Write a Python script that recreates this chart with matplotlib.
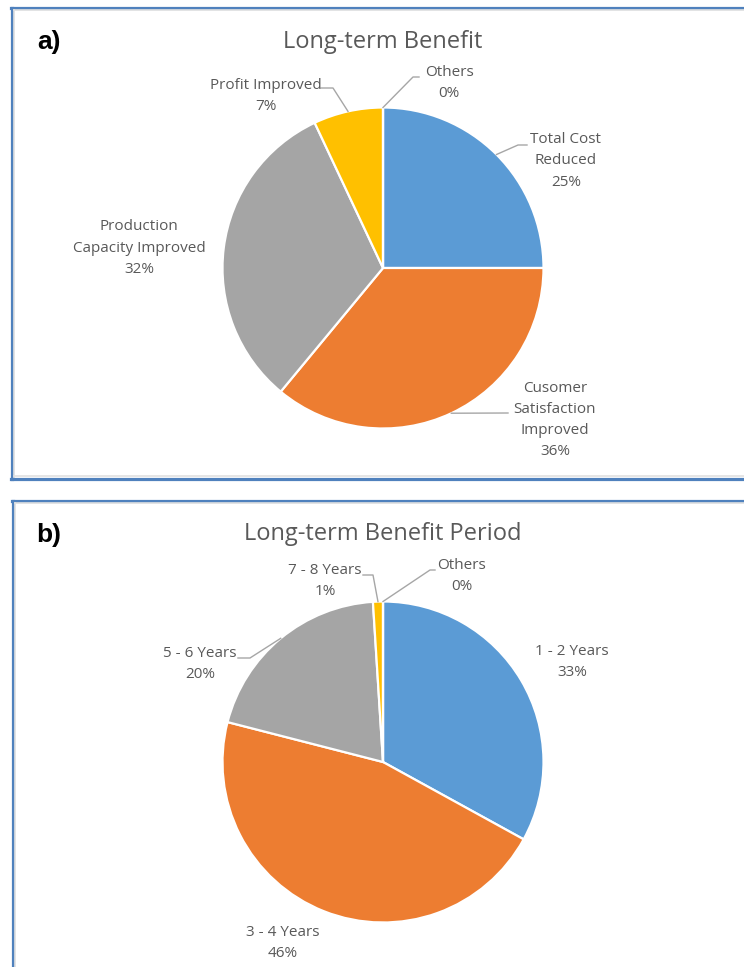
import matplotlib
matplotlib.use("Agg")
import matplotlib.pyplot as plt
from matplotlib.lines import Line2D
import numpy as np

# ---------------- data ----------------
a_title = "Long-term Benefit"
a_labels = ["Total Cost\nReduced", "Cusomer\nSatisfaction\nImproved",
            "Production\nCapacity Improved", "Profit Improved", "Others"]
a_values = [25, 36, 32, 7, 0]

b_title = "Long-term Benefit Period"
b_labels = ["1 - 2 Years", "3 - 4 Years", "5 - 6 Years", "7 - 8 Years", "Others"]
b_values = [33, 46, 20, 1, 0]

colors = ["#5B9BD5", "#ED7D31", "#A5A5A5", "#FFC000", "#4472C4"]

# ---------------- layout ----------------
W, H = 744, 967
DPI = 100
TXT = "#595959"
LEAD = "#A6A6A6"
FONT = ["Open Sans", "DejaVu Sans"]

fig = plt.figure(figsize=(W / DPI, H / DPI), dpi=DPI)


def fx(px):
    return px / W


def fy(py):
    return 1 - py / H


# panel frames
def frame(x0, y0, y1):
    fig.add_artist(Line2D([fx(x0), fx(x0)], [fy(y0), fy(y1)], color="#4F81BD", lw=2.3,
                          transform=fig.transFigure))
    fig.add_artist(Line2D([fx(x0 - 1), fx(W + 5)], [fy(y0), fy(y0)], color="#4F81BD", lw=2.3,
                          transform=fig.transFigure))
    fig.add_artist(Line2D([fx(x0 + 2.5), fx(x0 + 2.5)], [fy(y0 + 2), fy(y1)], color="#E0E0E0",
                          lw=1.2, transform=fig.transFigure))
    fig.add_artist(Line2D([fx(x0 + 2), fx(W + 5)], [fy(y0 + 2.5), fy(y0 + 2.5)],
                          color="#E0E0E0", lw=1.2, transform=fig.transFigure))


frame(11.5, 7.5, 478.5)
fig.add_artist(Line2D([fx(11), fx(W + 5)], [fy(478.5), fy(478.5)], color="#4F81BD", lw=2.3,
                      transform=fig.transFigure))
fig.add_artist(Line2D([fx(14), fx(W + 5)], [fy(476), fy(476)], color="#E0E0E0", lw=1.2,
                      transform=fig.transFigure))
frame(12.5, 500.5, H + 5)


def draw_pie(cx, cy, r, values, labels, title, title_y, letter, letter_y, label_specs):
    ax = fig.add_axes([fx(cx - r), fy(cy + r), fx(2 * r), 2 * r / H])
    ax.axis("off")
    wedges, _ = ax.pie(values, colors=colors, startangle=90, counterclock=False,
                       radius=1, wedgeprops=dict(edgecolor="white", linewidth=1.6))
    ax.set_xlim(-1, 1)
    ax.set_ylim(-1, 1)
    ax.set_aspect("equal")
    total = float(sum(values))
    cum = np.cumsum([0] + list(values))
    for i, (lab, val) in enumerate(zip(labels, values)):
        mid = np.deg2rad(90 - 360 * (cum[i] + val / 2) / total)
        ax_px = (cx + r * np.cos(mid), cy - r * np.sin(mid))
        spec = label_specs[i]
        tx, ty = spec["text"]
        fig.text(fx(tx), fy(ty), f"{lab}\n{val:.0f}%", ha="center", va="center",
                 color=TXT, fontsize=11, family=FONT, linespacing=1.55)
        if spec.get("lead"):
            pts = [ax_px] + spec["lead"]
            fig.add_artist(Line2D([fx(p[0]) for p in pts], [fy(p[1]) for p in pts],
                                  color=LEAD, lw=1.0, transform=fig.transFigure))
    fig.text(fx(cx), fy(title_y), title, ha="center", va="center", color=TXT,
             fontsize=17, family=FONT)
    fig.text(fx(49), fy(letter_y), letter, ha="center", va="center", color="black",
             fontsize=19, fontweight="bold", family=["Liberation Sans", "DejaVu Sans"])


a_specs = [
    dict(text=(566, 161), lead=[(518, 145), (527, 145)]),
    dict(text=(555, 420), lead=[(508, 413)]),
    dict(text=(139, 248), lead=None),
    dict(text=(266, 96), lead=[(333, 88), (321, 88)]),
    dict(text=(449, 83), lead=[(413, 77), (419, 77)]),
]
draw_pie(383, 268, 160.5, a_values, a_labels, a_title, 42, "a)", 42, a_specs)

b_specs = [
    dict(text=(572, 662), lead=None),
    dict(text=(283, 943), lead=None),
    dict(text=(200, 664), lead=[(250, 658), (238, 658)]),
    dict(text=(325, 581), lead=[(373, 575), (363, 575)]),
    dict(text=(462, 576), lead=[(430, 570), (435, 570)]),
]
draw_pie(383, 762, 160.5, b_values, b_labels, b_title, 534, "b)", 535, b_specs)

fig.savefig("out.png", dpi=DPI, facecolor="white")
